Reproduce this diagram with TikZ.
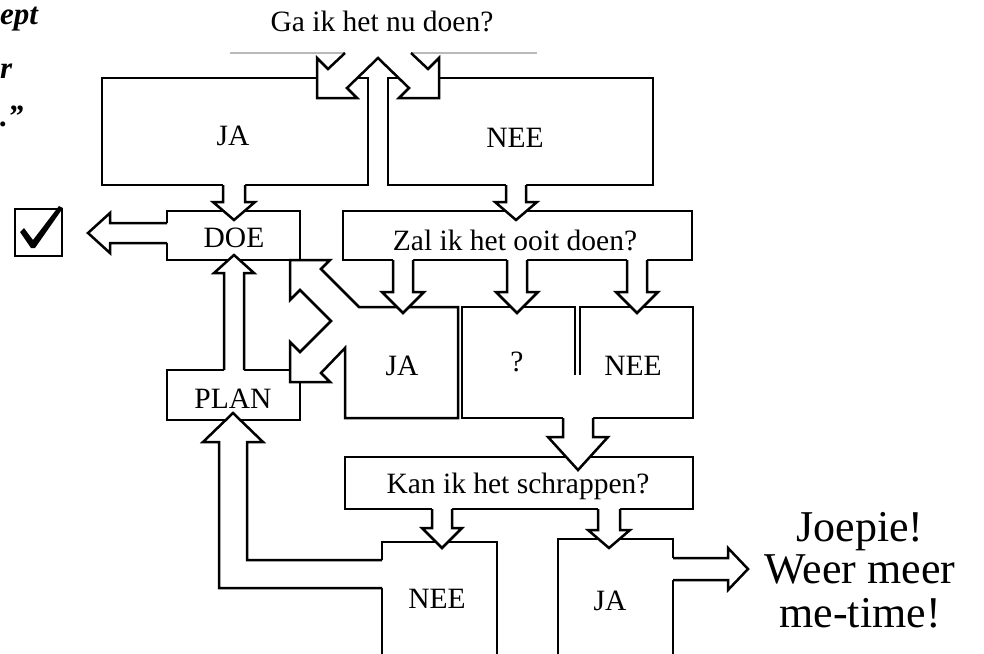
\documentclass[tikz,border=0pt]{standalone}
\usepackage{fontspec}
\setmainfont{Liberation Serif}
\newcommand\vertarr[7]{% cx, ybase, yfillbase, yhead, ytip, halfshaft, halfhead
  \fill[white] ({#1-#6},#3) -- ({#1-#6},#4) -- ({#1-#7},#4) -- (#1,#5) -- ({#1+#7},#4) -- ({#1+#6},#4) -- ({#1+#6},#3) -- cycle;
  \draw[ln] ({#1-#6},#2) -- ({#1-#6},#4) -- ({#1-#7},#4) -- (#1,#5) -- ({#1+#7},#4) -- ({#1+#6},#4) -- ({#1+#6},#2);}
\begin{document}
\begin{tikzpicture}[x=1pt,y=-1pt,
  ln/.style={line width=2.5pt, line join=miter, line cap=butt},
  lbl/.style={font=\fontsize{29.5}{32}\selectfont, inner sep=0pt},
  big/.style={font=\fontsize{44}{46}\selectfont, inner sep=0pt, anchor=base},
  scr/.style={font=\fontsize{31}{33}\selectfont\itshape\bfseries, inner sep=0pt, anchor=base west}]
\useasboundingbox[fill=white] (0,0) rectangle (984,653);

% script text fragments at top-left
\node[scr] (s1) at (0,24) {ept};
\node[scr] (s2) at (0,78) {r};
\node[scr] (s3) at (0,126) {.”};

% faint lines of the top question
\draw[gray!55, line width=1.2pt] (230,53) -- (345,53) (411,53) -- (537,53);

% top split arrow with JA / NEE boxes
\draw[ln] (345,53) -- (328,69) -- (317,58) -- (317,98) -- (357,98) -- (347,88) -- (378,58) -- (409,88) -- (399,98) -- (439,98) -- (439,58) -- (428,69) -- (411,53);
\draw[ln] (317,78) -- (102,78) -- (102,185) -- (368,185) -- (368,78) -- (358,78);
\draw[ln] (439,78) -- (653,78) -- (653,185) -- (388,185) -- (388,78) -- (398,78);

% DOE and Zal boxes
\draw[ln] (167,211) rectangle (300,260);
\draw[ln] (343,211) rectangle (692,260);

% JA2 box with the two arrows to DOE and PLAN
\draw[ln] (458,307) -- (359,307) -- (321,269) -- (330,260) -- (290,260) -- (290,300) -- (300,290) -- (331,321) -- (300,352) -- (290,342) -- (290,382) -- (330,382) -- (321,373) -- (345,348) -- (345,418) -- (458,418) -- cycle;

% ? and NEE2 boxes
\draw[ln] (575,375) -- (575,307) -- (462,307) -- (462,418) -- (693,418) -- (693,307) -- (580,307) -- (580,375);

% PLAN box
\draw[ln] (290,370) -- (167,370) -- (167,420) -- (300,420) -- (300,382);

% Kan box, NEE3, JA3
\draw[ln] (345,457) rectangle (693,509);
\draw[ln] (382,670) -- (382,542) -- (497,542) -- (497,670);
\draw[ln] (558,670) -- (558,539) -- (673,539) -- (673,670);

% vertical block arrows
\vertarr{234}{185}{182}{202}{220}{11}{21}
\vertarr{516}{185}{182}{202}{220}{10}{21}
\vertarr{403}{260}{257}{292}{313}{10}{21}
\vertarr{517}{260}{257}{292}{313}{10}{21}
\vertarr{637}{260}{257}{292}{313}{10}{21}
\vertarr{234}{370}{373}{273}{255}{10}{20}
\vertarr{578}{418}{415}{437}{470}{15}{30}
\vertarr{442}{509}{506}{528}{548}{10}{20}
\vertarr{609}{509}{506}{530}{548}{11}{21}

% DOE -> check arrow
\fill[white] (170,223) -- (110,223) -- (110,213) -- (88,233) -- (110,253) -- (110,243) -- (170,243) -- cycle;
\draw[ln] (167,223) -- (110,223) -- (110,213) -- (88,233) -- (110,253) -- (110,243) -- (167,243);

% JA3 -> Joepie arrow
\fill[white] (670,558) -- (728,558) -- (728,548) -- (748,569) -- (728,590) -- (728,580) -- (670,580) -- cycle;
\draw[ln] (673,558) -- (728,558) -- (728,548) -- (748,569) -- (728,590) -- (728,580) -- (673,580);

% NEE3 -> PLAN arrow
\fill[white] (385,560) -- (247,560) -- (247,442) -- (263,442) -- (233,413) -- (203,442) -- (219,442) -- (219,588) -- (385,588) -- cycle;
\draw[ln] (382,560) -- (247,560) -- (247,442) -- (263,442) -- (233,413) -- (203,442) -- (219,442) -- (219,588) -- (382,588);

% check box
\draw[line width=2.6pt] (15,209) rectangle (62,256);
\fill (20,232) -- (24,228) -- (33,240) -- (59,206) -- (63,208) -- (35,248) -- (31,248) -- cycle;

% labels
\node[lbl] (q1) at (382,21) {Ga ik het nu doen?};
\node[lbl] (ja1) at (233,136) {JA};
\node[lbl] (nee1) at (515,138) {NEE};
\node[lbl] (doe) at (234,238) {DOE};
\node[lbl] (q2) at (515,240) {Zal ik het ooit doen?};
\node[lbl] (ja2) at (402,366) {JA};
\node[lbl] (qm) at (517,362) {?};
\node[lbl] (nee2) at (633,366) {NEE};
\node[lbl] (plan) at (233,399) {PLAN};
\node[lbl] (q3) at (518,486) {Kan ik het schrappen?};
\node[lbl] (nee3) at (437,599) {NEE};
\node[lbl] (ja3) at (610,601) {JA};
\node[big] (j1) at (860,541) {Joepie!};
\node[big] (j2) at (860,583) {Weer meer};
\node[big] (j3) at (860,627) {me-time!};
\end{tikzpicture}
\end{document}
